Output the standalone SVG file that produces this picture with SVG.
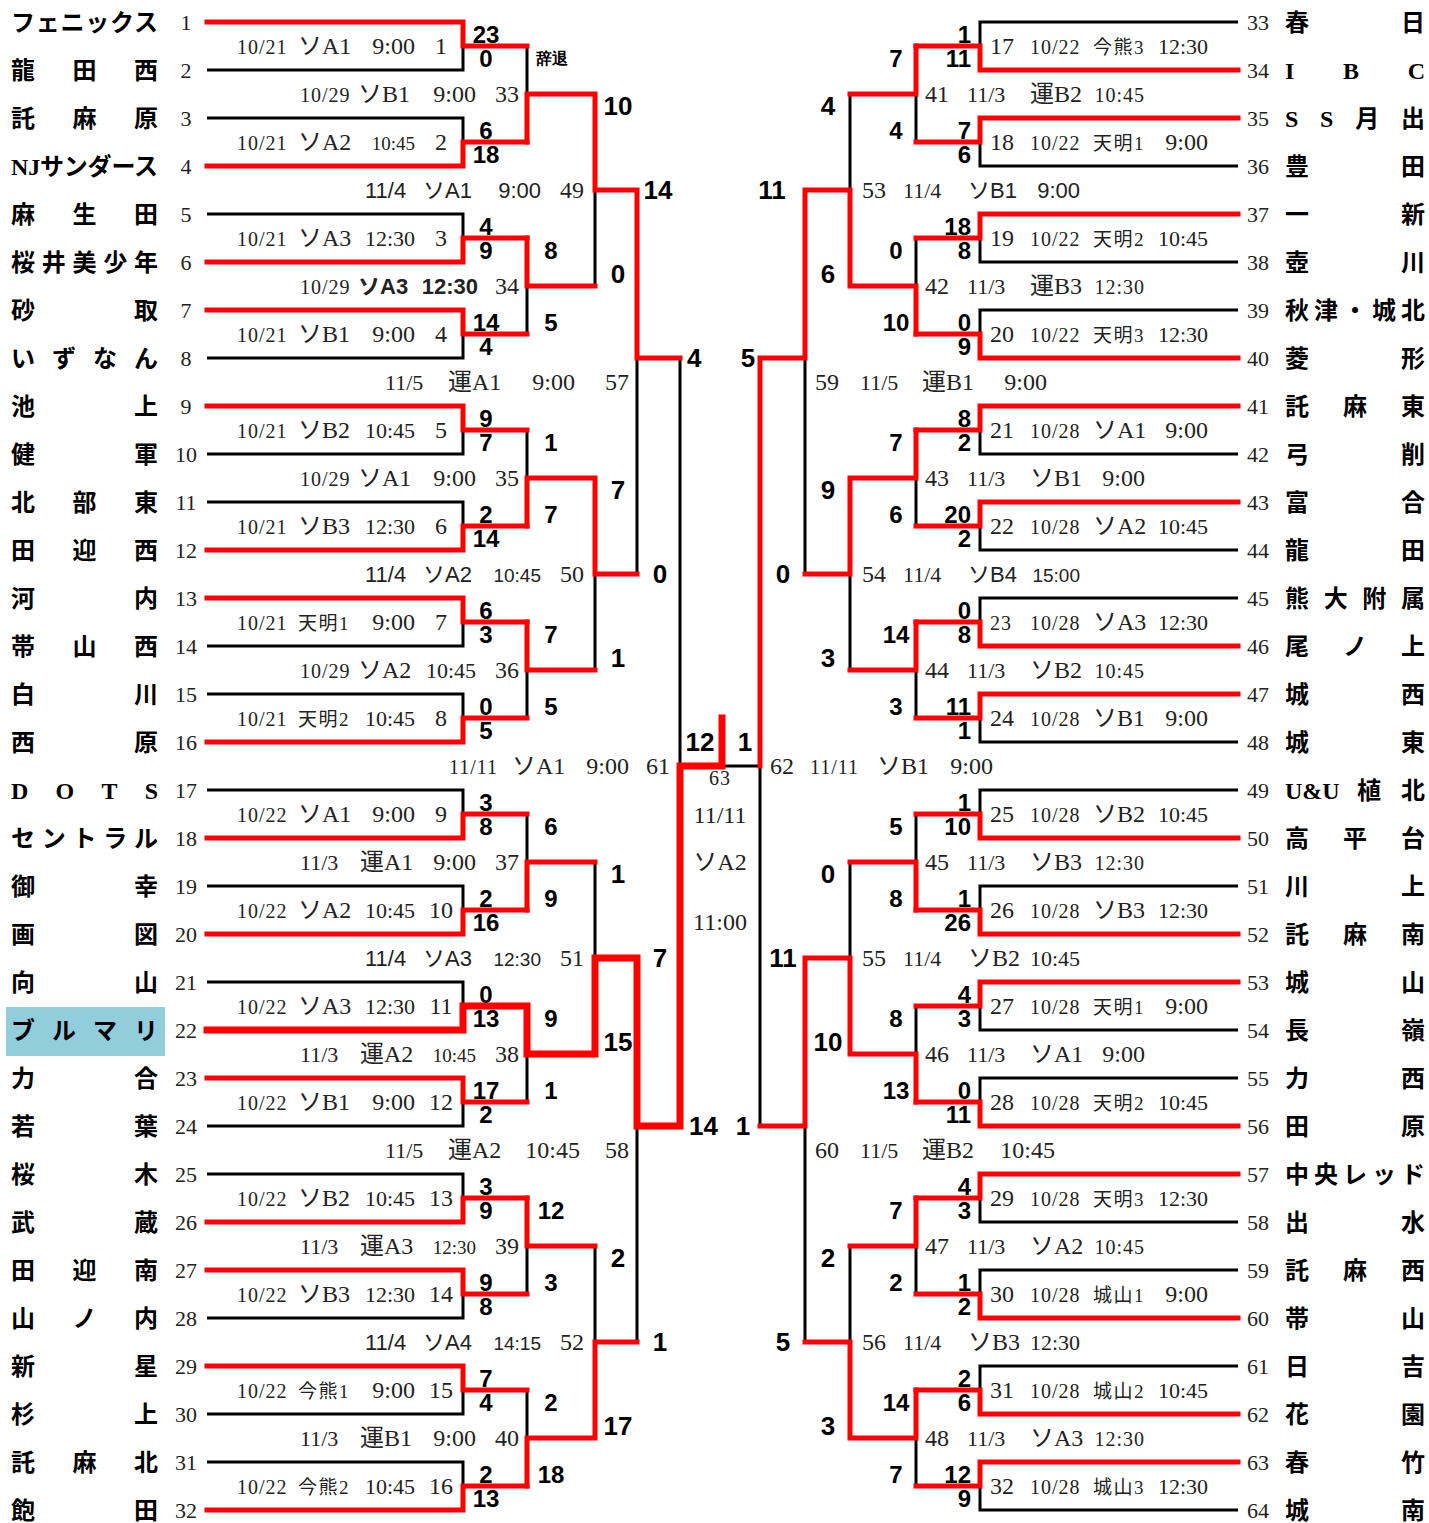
<svg xmlns="http://www.w3.org/2000/svg" width="1429" height="1523" viewBox="0 0 1429 1523">
<style>
.k{fill:none;stroke:#000;stroke-width:3}
.r{fill:none;stroke:#f00;stroke-width:5;stroke-linecap:square}
.c{fill:none;stroke:#f00;stroke-width:7;stroke-linecap:square}
.nm{font-family:"Liberation Serif","Noto Sans CJK JP",serif;font-size:24px;font-weight:bold;fill:#000}
.no{font-family:"Liberation Serif","Noto Sans CJK JP",serif;font-size:22px;fill:#222;text-anchor:middle}
.lb{font-family:"Liberation Serif","Noto Sans CJK JP",serif;font-size:24px;fill:#222}
.g{font-family:"Liberation Sans","Noto Sans CJK JP",sans-serif;font-size:22px}
.gb{font-family:"Liberation Sans","Noto Sans CJK JP",sans-serif;font-weight:bold;font-size:22px}
.d{font-size:22px}
.s{font-size:20px;letter-spacing:1px}
.t{font-size:19px}
.j{font-size:19px;letter-spacing:1.5px}
.e{text-anchor:end}
.m{text-anchor:middle}
.sc{font-family:"Liberation Sans Narrow","Liberation Sans",sans-serif;font-weight:bold;font-size:24px;fill:#000;text-anchor:middle}
.sc2{font-size:26px}
.st{text-anchor:start}
.en{text-anchor:end}
.small{font-size:16px}
</style>
<rect x="6" y="1007" width="159" height="49" fill="#92CDDC"/>
<g id="connectors">
<path class="k" d="M207,22H463V70H207M207,118H463V166H207M207,214H463V262H207M207,310H463V358H207M207,406H463V454H207M207,502H463V550H207M207,598H463V646H207M207,694H463V742H207M207,790H463V838H207M207,886H463V934H207M207,982H463V1030H207M207,1078H463V1126H207M207,1174H463V1222H207M207,1270H463V1318H207M207,1366H463V1414H207M207,1462H463V1510H207"/>
<path class="k" d="M463,46H527V142H463M463,238H527V334H463M463,430H527V526H463M463,622H527V718H463M463,814H527V910H463M463,1006H527V1102H463M463,1198H527V1294H463M463,1390H527V1486H463"/>
<path class="k" d="M527,94H595V286H527M527,478H595V670H527M527,862H595V1054H527M527,1246H595V1438H527M595,190H637V574H595M595,958H637V1342H595M637,358H680V1126H637M680,766H760"/>
<path class="k" d="M1238,22H980V70H1238M1238,118H980V166H1238M1238,214H980V262H1238M1238,310H980V358H1238M1238,406H980V454H1238M1238,502H980V550H1238M1238,598H980V646H1238M1238,694H980V742H1238M1238,790H980V838H1238M1238,886H980V934H1238M1238,982H980V1030H1238M1238,1078H980V1126H1238M1238,1174H980V1222H1238M1238,1270H980V1318H1238M1238,1366H980V1414H1238M1238,1462H980V1510H1238"/>
<path class="k" d="M980,46H916V142H980M980,238H916V334H980M980,430H916V526H980M980,622H916V718H980M980,814H916V910H980M980,1006H916V1102H980M980,1198H916V1294H980M980,1390H916V1486H980"/>
<path class="k" d="M916,94H850V286H916M916,478H850V670H916M916,862H850V1054H916M916,1246H850V1438H916M850,190H805V574H850M850,958H805V1342H850M805,358H760V1126H805"/>
<path class="r" d="M207,22H463V46H527M207,166H463V142H527M207,262H463V238H527M207,310H463V334H527M207,406H463V430H527M207,550H463V526H527M207,598H463V622H527M207,742H463V718H527M207,838H463V814H527M207,934H463V910H527M207,1078H463V1102H527M207,1222H463V1198H527M207,1270H463V1294H527M207,1366H463V1390H527M207,1510H463V1486H527"/>
<path class="r" d="M527,142V94H595M527,238V286H595M527,526V478H595M527,622V670H595M527,910V862H595M527,1198V1246H595M527,1486V1438H595M595,94V190H637M595,478V574H637M595,1438V1342H637M637,190V358H680"/>
<path class="c" d="M207,1030H463V1006H527V1054H595V958H637V1126H680V766H722V718"/>
<path class="r" d="M1238,70H980V46H916M1238,118H980V142H916M1238,214H980V238H916M1238,358H980V334H916M1238,406H980V430H916M1238,502H980V526H916M1238,646H980V622H916M1238,694H980V718H916M1238,838H980V814H916M1238,934H980V910H916M1238,982H980V1006H916M1238,1126H980V1102H916M1238,1174H980V1198H916M1238,1318H980V1294H916M1238,1414H980V1390H916M1238,1462H980V1486H916"/>
<path class="r" d="M916,46V94H850M916,334V286H850M916,430V478H850M916,622V670H850M916,910V862H850M916,1102V1054H850M916,1198V1246H850M916,1390V1438H850M850,286V190H805M850,478V574H805M850,1054V958H805M850,1438V1342H805M805,190V358H760M805,958V1126H760M760,358V766"/>
</g>
<g id="teams-left">
<g id="t1"><text class="nm" x="11" y="31" textLength="147" lengthAdjust="spacing">フェニックス</text><text class="no" x="186" y="30">1</text></g>
<g id="t2"><text class="nm" x="11" y="79" textLength="147" lengthAdjust="spacing">龍田西</text><text class="no" x="186" y="78">2</text></g>
<g id="t3"><text class="nm" x="11" y="127" textLength="147" lengthAdjust="spacing">託麻原</text><text class="no" x="186" y="126">3</text></g>
<g id="t4"><text class="nm" x="11" y="175" textLength="147" lengthAdjust="spacing">NJサンダース</text><text class="no" x="186" y="174">4</text></g>
<g id="t5"><text class="nm" x="11" y="223" textLength="147" lengthAdjust="spacing">麻生田</text><text class="no" x="186" y="222">5</text></g>
<g id="t6"><text class="nm" x="11" y="271" textLength="147" lengthAdjust="spacing">桜井美少年</text><text class="no" x="186" y="270">6</text></g>
<g id="t7"><text class="nm" x="11" y="319" textLength="147" lengthAdjust="spacing">砂取</text><text class="no" x="186" y="318">7</text></g>
<g id="t8"><text class="nm" x="11" y="367" textLength="147" lengthAdjust="spacing">いずなん</text><text class="no" x="186" y="366">8</text></g>
<g id="t9"><text class="nm" x="11" y="415" textLength="147" lengthAdjust="spacing">池上</text><text class="no" x="186" y="414">9</text></g>
<g id="t10"><text class="nm" x="11" y="463" textLength="147" lengthAdjust="spacing">健軍</text><text class="no" x="186" y="462">10</text></g>
<g id="t11"><text class="nm" x="11" y="511" textLength="147" lengthAdjust="spacing">北部東</text><text class="no" x="186" y="510">11</text></g>
<g id="t12"><text class="nm" x="11" y="559" textLength="147" lengthAdjust="spacing">田迎西</text><text class="no" x="186" y="558">12</text></g>
<g id="t13"><text class="nm" x="11" y="607" textLength="147" lengthAdjust="spacing">河内</text><text class="no" x="186" y="606">13</text></g>
<g id="t14"><text class="nm" x="11" y="655" textLength="147" lengthAdjust="spacing">帯山西</text><text class="no" x="186" y="654">14</text></g>
<g id="t15"><text class="nm" x="11" y="703" textLength="147" lengthAdjust="spacing">白川</text><text class="no" x="186" y="702">15</text></g>
<g id="t16"><text class="nm" x="11" y="751" textLength="147" lengthAdjust="spacing">西原</text><text class="no" x="186" y="750">16</text></g>
<g id="t17"><text class="nm" x="11" y="799" textLength="147" lengthAdjust="spacing">DOTS</text><text class="no" x="186" y="798">17</text></g>
<g id="t18"><text class="nm" x="11" y="847" textLength="147" lengthAdjust="spacing">セントラル</text><text class="no" x="186" y="846">18</text></g>
<g id="t19"><text class="nm" x="11" y="895" textLength="147" lengthAdjust="spacing">御幸</text><text class="no" x="186" y="894">19</text></g>
<g id="t20"><text class="nm" x="11" y="943" textLength="147" lengthAdjust="spacing">画図</text><text class="no" x="186" y="942">20</text></g>
<g id="t21"><text class="nm" x="11" y="991" textLength="147" lengthAdjust="spacing">向山</text><text class="no" x="186" y="990">21</text></g>
<g id="t22"><text class="nm" x="11" y="1039" textLength="147" lengthAdjust="spacing">ブルマリ</text><text class="no" x="186" y="1038">22</text></g>
<g id="t23"><text class="nm" x="11" y="1087" textLength="147" lengthAdjust="spacing">力合</text><text class="no" x="186" y="1086">23</text></g>
<g id="t24"><text class="nm" x="11" y="1135" textLength="147" lengthAdjust="spacing">若葉</text><text class="no" x="186" y="1134">24</text></g>
<g id="t25"><text class="nm" x="11" y="1183" textLength="147" lengthAdjust="spacing">桜木</text><text class="no" x="186" y="1182">25</text></g>
<g id="t26"><text class="nm" x="11" y="1231" textLength="147" lengthAdjust="spacing">武蔵</text><text class="no" x="186" y="1230">26</text></g>
<g id="t27"><text class="nm" x="11" y="1279" textLength="147" lengthAdjust="spacing">田迎南</text><text class="no" x="186" y="1278">27</text></g>
<g id="t28"><text class="nm" x="11" y="1327" textLength="147" lengthAdjust="spacing">山ノ内</text><text class="no" x="186" y="1326">28</text></g>
<g id="t29"><text class="nm" x="11" y="1375" textLength="147" lengthAdjust="spacing">新星</text><text class="no" x="186" y="1374">29</text></g>
<g id="t30"><text class="nm" x="11" y="1423" textLength="147" lengthAdjust="spacing">杉上</text><text class="no" x="186" y="1422">30</text></g>
<g id="t31"><text class="nm" x="11" y="1471" textLength="147" lengthAdjust="spacing">託麻北</text><text class="no" x="186" y="1470">31</text></g>
<g id="t32"><text class="nm" x="11" y="1519" textLength="147" lengthAdjust="spacing">飽田</text><text class="no" x="186" y="1518">32</text></g>
</g>
<g id="teams-right">
<g id="t33"><text class="no" x="1258" y="30">33</text><text class="nm" x="1285" y="31" textLength="140" lengthAdjust="spacing">春日</text></g>
<g id="t34"><text class="no" x="1258" y="78">34</text><text class="nm" x="1285" y="79" textLength="140" lengthAdjust="spacing">IBC</text></g>
<g id="t35"><text class="no" x="1258" y="126">35</text><text class="nm" x="1285" y="127" textLength="140" lengthAdjust="spacing">SS月出</text></g>
<g id="t36"><text class="no" x="1258" y="174">36</text><text class="nm" x="1285" y="175" textLength="140" lengthAdjust="spacing">豊田</text></g>
<g id="t37"><text class="no" x="1258" y="222">37</text><text class="nm" x="1285" y="223" textLength="140" lengthAdjust="spacing">一新</text></g>
<g id="t38"><text class="no" x="1258" y="270">38</text><text class="nm" x="1285" y="271" textLength="140" lengthAdjust="spacing">壺川</text></g>
<g id="t39"><text class="no" x="1258" y="318">39</text><text class="nm" x="1285" y="319" textLength="140" lengthAdjust="spacing">秋津・城北</text></g>
<g id="t40"><text class="no" x="1258" y="366">40</text><text class="nm" x="1285" y="367" textLength="140" lengthAdjust="spacing">菱形</text></g>
<g id="t41"><text class="no" x="1258" y="414">41</text><text class="nm" x="1285" y="415" textLength="140" lengthAdjust="spacing">託麻東</text></g>
<g id="t42"><text class="no" x="1258" y="462">42</text><text class="nm" x="1285" y="463" textLength="140" lengthAdjust="spacing">弓削</text></g>
<g id="t43"><text class="no" x="1258" y="510">43</text><text class="nm" x="1285" y="511" textLength="140" lengthAdjust="spacing">富合</text></g>
<g id="t44"><text class="no" x="1258" y="558">44</text><text class="nm" x="1285" y="559" textLength="140" lengthAdjust="spacing">龍田</text></g>
<g id="t45"><text class="no" x="1258" y="606">45</text><text class="nm" x="1285" y="607" textLength="140" lengthAdjust="spacing">熊大附属</text></g>
<g id="t46"><text class="no" x="1258" y="654">46</text><text class="nm" x="1285" y="655" textLength="140" lengthAdjust="spacing">尾ノ上</text></g>
<g id="t47"><text class="no" x="1258" y="702">47</text><text class="nm" x="1285" y="703" textLength="140" lengthAdjust="spacing">城西</text></g>
<g id="t48"><text class="no" x="1258" y="750">48</text><text class="nm" x="1285" y="751" textLength="140" lengthAdjust="spacing">城東</text></g>
<g id="t49"><text class="no" x="1258" y="798">49</text><text class="nm" x="1285" y="799">U&amp;U</text><text class="nm" x="1357" y="799">植</text><text class="nm" x="1401" y="799">北</text></g>
<g id="t50"><text class="no" x="1258" y="846">50</text><text class="nm" x="1285" y="847" textLength="140" lengthAdjust="spacing">高平台</text></g>
<g id="t51"><text class="no" x="1258" y="894">51</text><text class="nm" x="1285" y="895" textLength="140" lengthAdjust="spacing">川上</text></g>
<g id="t52"><text class="no" x="1258" y="942">52</text><text class="nm" x="1285" y="943" textLength="140" lengthAdjust="spacing">託麻南</text></g>
<g id="t53"><text class="no" x="1258" y="990">53</text><text class="nm" x="1285" y="991" textLength="140" lengthAdjust="spacing">城山</text></g>
<g id="t54"><text class="no" x="1258" y="1038">54</text><text class="nm" x="1285" y="1039" textLength="140" lengthAdjust="spacing">長嶺</text></g>
<g id="t55"><text class="no" x="1258" y="1086">55</text><text class="nm" x="1285" y="1087" textLength="140" lengthAdjust="spacing">力西</text></g>
<g id="t56"><text class="no" x="1258" y="1134">56</text><text class="nm" x="1285" y="1135" textLength="140" lengthAdjust="spacing">田原</text></g>
<g id="t57"><text class="no" x="1258" y="1182">57</text><text class="nm" x="1285" y="1183" textLength="140" lengthAdjust="spacing">中央レッド</text></g>
<g id="t58"><text class="no" x="1258" y="1230">58</text><text class="nm" x="1285" y="1231" textLength="140" lengthAdjust="spacing">出水</text></g>
<g id="t59"><text class="no" x="1258" y="1278">59</text><text class="nm" x="1285" y="1279" textLength="140" lengthAdjust="spacing">託麻西</text></g>
<g id="t60"><text class="no" x="1258" y="1326">60</text><text class="nm" x="1285" y="1327" textLength="140" lengthAdjust="spacing">帯山</text></g>
<g id="t61"><text class="no" x="1258" y="1374">61</text><text class="nm" x="1285" y="1375" textLength="140" lengthAdjust="spacing">日吉</text></g>
<g id="t62"><text class="no" x="1258" y="1422">62</text><text class="nm" x="1285" y="1423" textLength="140" lengthAdjust="spacing">花園</text></g>
<g id="t63"><text class="no" x="1258" y="1470">63</text><text class="nm" x="1285" y="1471" textLength="140" lengthAdjust="spacing">春竹</text></g>
<g id="t64"><text class="no" x="1258" y="1518">64</text><text class="nm" x="1285" y="1519" textLength="140" lengthAdjust="spacing">城南</text></g>
</g>
<g id="match-labels">
<text class="lb" y="54"><tspan x="237" class="s">10/21</tspan><tspan x="298">ソA1</tspan><tspan x="415" class="e">9:00</tspan><tspan x="441" class="m">1</tspan></text>
<text class="lb" y="150"><tspan x="237" class="s">10/21</tspan><tspan x="298">ソA2</tspan><tspan x="415" class="e t">10:45</tspan><tspan x="441" class="m">2</tspan></text>
<text class="lb" y="246"><tspan x="237" class="s">10/21</tspan><tspan x="298">ソA3</tspan><tspan x="415" class="e d">12:30</tspan><tspan x="441" class="m">3</tspan></text>
<text class="lb" y="342"><tspan x="237" class="s">10/21</tspan><tspan x="298">ソB1</tspan><tspan x="415" class="e">9:00</tspan><tspan x="441" class="m">4</tspan></text>
<text class="lb" y="438"><tspan x="237" class="s">10/21</tspan><tspan x="298">ソB2</tspan><tspan x="415" class="e d">10:45</tspan><tspan x="441" class="m">5</tspan></text>
<text class="lb" y="534"><tspan x="237" class="s">10/21</tspan><tspan x="298">ソB3</tspan><tspan x="415" class="e d">12:30</tspan><tspan x="441" class="m">6</tspan></text>
<text class="lb" y="630"><tspan x="237" class="s">10/21</tspan><tspan x="298" class="j">天明1</tspan><tspan x="415" class="e">9:00</tspan><tspan x="441" class="m">7</tspan></text>
<text class="lb" y="726"><tspan x="237" class="s">10/21</tspan><tspan x="298" class="j">天明2</tspan><tspan x="415" class="e d">10:45</tspan><tspan x="441" class="m">8</tspan></text>
<text class="lb" y="822"><tspan x="237" class="s">10/22</tspan><tspan x="298">ソA1</tspan><tspan x="415" class="e">9:00</tspan><tspan x="441" class="m">9</tspan></text>
<text class="lb" y="918"><tspan x="237" class="s">10/22</tspan><tspan x="298">ソA2</tspan><tspan x="415" class="e d">10:45</tspan><tspan x="441" class="m">10</tspan></text>
<text class="lb" y="1014"><tspan x="237" class="s">10/22</tspan><tspan x="298">ソA3</tspan><tspan x="415" class="e d">12:30</tspan><tspan x="441" class="m">11</tspan></text>
<text class="lb" y="1110"><tspan x="237" class="s">10/22</tspan><tspan x="298">ソB1</tspan><tspan x="415" class="e">9:00</tspan><tspan x="441" class="m">12</tspan></text>
<text class="lb" y="1206"><tspan x="237" class="s">10/22</tspan><tspan x="298">ソB2</tspan><tspan x="415" class="e d">10:45</tspan><tspan x="441" class="m">13</tspan></text>
<text class="lb" y="1302"><tspan x="237" class="s">10/22</tspan><tspan x="298">ソB3</tspan><tspan x="415" class="e d">12:30</tspan><tspan x="441" class="m">14</tspan></text>
<text class="lb" y="1398"><tspan x="237" class="s">10/22</tspan><tspan x="298" class="j">今熊1</tspan><tspan x="415" class="e">9:00</tspan><tspan x="441" class="m">15</tspan></text>
<text class="lb" y="1494"><tspan x="237" class="s">10/22</tspan><tspan x="298" class="j">今熊2</tspan><tspan x="415" class="e d">10:45</tspan><tspan x="441" class="m">16</tspan></text>
<text class="lb" y="102"><tspan x="300" class="s">10/29</tspan><tspan x="358">ソB1</tspan><tspan x="476" class="e">9:00</tspan><tspan x="507" class="m">33</tspan></text>
<text class="lb" y="294"><tspan x="300" class="s">10/29</tspan><tspan x="358" class="gb">ソA3</tspan><tspan x="478" class="e gb">12:30</tspan><tspan x="507" class="m">34</tspan></text>
<text class="lb" y="486"><tspan x="300" class="s">10/29</tspan><tspan x="358">ソA1</tspan><tspan x="476" class="e">9:00</tspan><tspan x="507" class="m">35</tspan></text>
<text class="lb" y="678"><tspan x="300" class="s">10/29</tspan><tspan x="358">ソA2</tspan><tspan x="476" class="e d">10:45</tspan><tspan x="507" class="m">36</tspan></text>
<text class="lb" y="870"><tspan x="300" class="d">11/3</tspan><tspan x="360">運A1</tspan><tspan x="476" class="e">9:00</tspan><tspan x="507" class="m">37</tspan></text>
<text class="lb" y="1062"><tspan x="300" class="d">11/3</tspan><tspan x="360">運A2</tspan><tspan x="476" class="e t">10:45</tspan><tspan x="507" class="m">38</tspan></text>
<text class="lb" y="1254"><tspan x="300" class="d">11/3</tspan><tspan x="360">運A3</tspan><tspan x="476" class="e t">12:30</tspan><tspan x="507" class="m">39</tspan></text>
<text class="lb" y="1446"><tspan x="300" class="d">11/3</tspan><tspan x="360">運B1</tspan><tspan x="476" class="e">9:00</tspan><tspan x="507" class="m">40</tspan></text>
<text class="lb" y="198"><tspan x="365" class="g">11/4</tspan><tspan x="423" class="g">ソA1</tspan><tspan x="541" class="e g">9:00</tspan><tspan x="572" class="m">49</tspan></text>
<text class="lb" y="582"><tspan x="365" class="g">11/4</tspan><tspan x="423" class="g">ソA2</tspan><tspan x="541" class="e g t">10:45</tspan><tspan x="572" class="m">50</tspan></text>
<text class="lb" y="966"><tspan x="365" class="g">11/4</tspan><tspan x="423" class="g">ソA3</tspan><tspan x="541" class="e g t">12:30</tspan><tspan x="572" class="m">51</tspan></text>
<text class="lb" y="1350"><tspan x="365" class="g">11/4</tspan><tspan x="423" class="g">ソA4</tspan><tspan x="541" class="e g t">14:15</tspan><tspan x="572" class="m">52</tspan></text>
<text class="lb" y="390"><tspan x="385" class="d">11/5</tspan><tspan x="448">運A1</tspan><tspan x="575" class="e">9:00</tspan><tspan x="617" class="m">57</tspan></text>
<text class="lb" y="1158"><tspan x="385" class="d">11/5</tspan><tspan x="448">運A2</tspan><tspan x="580" class="e">10:45</tspan><tspan x="617" class="m">58</tspan></text>
<text class="lb" y="774"><tspan x="449" class="s">11/11</tspan><tspan x="512">ソA1</tspan><tspan x="629" class="e">9:00</tspan><tspan x="658" class="m">61</tspan></text>
<text class="lb" y="54"><tspan x="990">17</tspan><tspan x="1030" class="s">10/22</tspan><tspan x="1093" class="j">今熊3</tspan><tspan x="1208" class="e d">12:30</tspan></text>
<text class="lb" y="150"><tspan x="990">18</tspan><tspan x="1030" class="s">10/22</tspan><tspan x="1093" class="j">天明1</tspan><tspan x="1208" class="e">9:00</tspan></text>
<text class="lb" y="246"><tspan x="990">19</tspan><tspan x="1030" class="s">10/22</tspan><tspan x="1093" class="j">天明2</tspan><tspan x="1208" class="e d">10:45</tspan></text>
<text class="lb" y="342"><tspan x="990">20</tspan><tspan x="1030" class="s">10/22</tspan><tspan x="1093" class="j">天明3</tspan><tspan x="1208" class="e d">12:30</tspan></text>
<text class="lb" y="438"><tspan x="990">21</tspan><tspan x="1030" class="s">10/28</tspan><tspan x="1093">ソA1</tspan><tspan x="1208" class="e">9:00</tspan></text>
<text class="lb" y="534"><tspan x="990">22</tspan><tspan x="1030" class="s">10/28</tspan><tspan x="1093">ソA2</tspan><tspan x="1208" class="e d">10:45</tspan></text>
<text class="lb" y="630"><tspan x="990" class="s">23</tspan><tspan x="1030" class="s">10/28</tspan><tspan x="1093">ソA3</tspan><tspan x="1208" class="e d">12:30</tspan></text>
<text class="lb" y="726"><tspan x="990">24</tspan><tspan x="1030" class="s">10/28</tspan><tspan x="1093">ソB1</tspan><tspan x="1208" class="e">9:00</tspan></text>
<text class="lb" y="822"><tspan x="990">25</tspan><tspan x="1030" class="s">10/28</tspan><tspan x="1093">ソB2</tspan><tspan x="1208" class="e d">10:45</tspan></text>
<text class="lb" y="918"><tspan x="990">26</tspan><tspan x="1030" class="s">10/28</tspan><tspan x="1093">ソB3</tspan><tspan x="1208" class="e d">12:30</tspan></text>
<text class="lb" y="1014"><tspan x="990">27</tspan><tspan x="1030" class="s">10/28</tspan><tspan x="1093" class="j">天明1</tspan><tspan x="1208" class="e">9:00</tspan></text>
<text class="lb" y="1110"><tspan x="990">28</tspan><tspan x="1030" class="s">10/28</tspan><tspan x="1093" class="j">天明2</tspan><tspan x="1208" class="e d">10:45</tspan></text>
<text class="lb" y="1206"><tspan x="990">29</tspan><tspan x="1030" class="s">10/28</tspan><tspan x="1093" class="j">天明3</tspan><tspan x="1208" class="e d">12:30</tspan></text>
<text class="lb" y="1302"><tspan x="990">30</tspan><tspan x="1030" class="s">10/28</tspan><tspan x="1093" class="j">城山1</tspan><tspan x="1208" class="e">9:00</tspan></text>
<text class="lb" y="1398"><tspan x="990">31</tspan><tspan x="1030" class="s">10/28</tspan><tspan x="1093" class="j">城山2</tspan><tspan x="1208" class="e d">10:45</tspan></text>
<text class="lb" y="1494"><tspan x="990">32</tspan><tspan x="1030" class="s">10/28</tspan><tspan x="1093" class="j">城山3</tspan><tspan x="1208" class="e d">12:30</tspan></text>
<text class="lb" y="102"><tspan x="925">41</tspan><tspan x="967" class="d">11/3</tspan><tspan x="1030">運B2</tspan><tspan x="1145" class="e s">10:45</tspan></text>
<text class="lb" y="294"><tspan x="925">42</tspan><tspan x="967" class="d">11/3</tspan><tspan x="1030">運B3</tspan><tspan x="1145" class="e s">12:30</tspan></text>
<text class="lb" y="486"><tspan x="925">43</tspan><tspan x="967" class="d">11/3</tspan><tspan x="1030">ソB1</tspan><tspan x="1145" class="e">9:00</tspan></text>
<text class="lb" y="678"><tspan x="925">44</tspan><tspan x="967" class="d">11/3</tspan><tspan x="1030">ソB2</tspan><tspan x="1145" class="e s">10:45</tspan></text>
<text class="lb" y="870"><tspan x="925">45</tspan><tspan x="967" class="d">11/3</tspan><tspan x="1030">ソB3</tspan><tspan x="1145" class="e s">12:30</tspan></text>
<text class="lb" y="1062"><tspan x="925">46</tspan><tspan x="967" class="d">11/3</tspan><tspan x="1030">ソA1</tspan><tspan x="1145" class="e">9:00</tspan></text>
<text class="lb" y="1254"><tspan x="925">47</tspan><tspan x="967" class="d">11/3</tspan><tspan x="1030">ソA2</tspan><tspan x="1145" class="e s">10:45</tspan></text>
<text class="lb" y="1446"><tspan x="925">48</tspan><tspan x="967" class="d">11/3</tspan><tspan x="1030">ソA3</tspan><tspan x="1145" class="e s">12:30</tspan></text>
<text class="lb" y="198"><tspan x="862">53</tspan><tspan x="903" class="d">11/4</tspan><tspan x="968" class="g">ソB1</tspan><tspan x="1080" class="e g">9:00</tspan></text>
<text class="lb" y="582"><tspan x="862">54</tspan><tspan x="903" class="d">11/4</tspan><tspan x="968" class="g">ソB4</tspan><tspan x="1080" class="e g t">15:00</tspan></text>
<text class="lb" y="966"><tspan x="862">55</tspan><tspan x="903" class="d">11/4</tspan><tspan x="968">ソB2</tspan><tspan x="1080" class="e d">10:45</tspan></text>
<text class="lb" y="1350"><tspan x="862">56</tspan><tspan x="903" class="d">11/4</tspan><tspan x="968">ソB3</tspan><tspan x="1080" class="e d">12:30</tspan></text>
<text class="lb" y="390"><tspan x="815">59</tspan><tspan x="860" class="d">11/5</tspan><tspan x="922">運B1</tspan><tspan x="1047" class="e">9:00</tspan></text>
<text class="lb" y="1158"><tspan x="815">60</tspan><tspan x="860" class="d">11/5</tspan><tspan x="922">運B2</tspan><tspan x="1055" class="e">10:45</tspan></text>
<text class="lb" y="774"><tspan x="770">62</tspan><tspan x="810" class="s">11/11</tspan><tspan x="877">ソB1</tspan><tspan x="993" class="e">9:00</tspan></text>
<text class="lb m s" x="720" y="785">63</text>
<text class="lb m" x="720" y="823">11/11</text>
<text class="lb m" x="720" y="870">ソA2</text>
<text class="lb m" x="720" y="930">11:00</text>
</g>
<g id="scores-left">
<text class="sc" x="486" y="43">23</text><text class="sc" x="486" y="67">0</text>
<text class="sc" x="486" y="139">6</text><text class="sc" x="486" y="163">18</text>
<text class="sc" x="486" y="235">4</text><text class="sc" x="486" y="259">9</text>
<text class="sc" x="486" y="331">14</text><text class="sc" x="486" y="355">4</text>
<text class="sc" x="486" y="427">9</text><text class="sc" x="486" y="451">7</text>
<text class="sc" x="486" y="523">2</text><text class="sc" x="486" y="547">14</text>
<text class="sc" x="486" y="619">6</text><text class="sc" x="486" y="643">3</text>
<text class="sc" x="486" y="715">0</text><text class="sc" x="486" y="739">5</text>
<text class="sc" x="486" y="811">3</text><text class="sc" x="486" y="835">8</text>
<text class="sc" x="486" y="907">2</text><text class="sc" x="486" y="931">16</text>
<text class="sc" x="486" y="1003">0</text><text class="sc" x="486" y="1027">13</text>
<text class="sc" x="486" y="1099">17</text><text class="sc" x="486" y="1123">2</text>
<text class="sc" x="486" y="1195">3</text><text class="sc" x="486" y="1219">9</text>
<text class="sc" x="486" y="1291">9</text><text class="sc" x="486" y="1315">8</text>
<text class="sc" x="486" y="1387">7</text><text class="sc" x="486" y="1411">4</text>
<text class="sc" x="486" y="1483">2</text><text class="sc" x="486" y="1507">13</text>
<text class="sc small" x="552" y="64">辞退</text>
<text class="sc" x="551" y="259">8</text><text class="sc" x="551" y="331">5</text>
<text class="sc" x="551" y="451">1</text><text class="sc" x="551" y="523">7</text>
<text class="sc" x="551" y="643">7</text><text class="sc" x="551" y="715">5</text>
<text class="sc" x="551" y="835">6</text><text class="sc" x="551" y="907">9</text>
<text class="sc" x="551" y="1027">9</text><text class="sc" x="551" y="1099">1</text>
<text class="sc" x="551" y="1219">12</text><text class="sc" x="551" y="1291">3</text>
<text class="sc" x="551" y="1411">2</text><text class="sc" x="551" y="1483">18</text>
<text class="sc sc2" x="618" y="115">10</text><text class="sc sc2" x="618" y="283">0</text>
<text class="sc sc2" x="618" y="499">7</text><text class="sc sc2" x="618" y="667">1</text>
<text class="sc sc2" x="618" y="883">1</text><text class="sc sc2" x="618" y="1051">15</text>
<text class="sc sc2" x="618" y="1267">2</text><text class="sc sc2" x="618" y="1435">17</text>
<text class="sc sc2" x="658" y="199">14</text><text class="sc sc2" x="660" y="583">0</text>
<text class="sc sc2" x="660" y="967">7</text><text class="sc sc2" x="660" y="1351">1</text>
<text class="sc sc2 st" x="687" y="367">4</text><text class="sc sc2 st" x="689" y="1135">14</text>
<text class="sc sc2" x="700" y="751">12</text><text class="sc sc2" x="745" y="751">1</text>
</g>
<g id="scores-right">
<text class="sc en" x="971" y="43">1</text><text class="sc en" x="971" y="67">11</text>
<text class="sc en" x="971" y="139">7</text><text class="sc en" x="971" y="163">6</text>
<text class="sc en" x="971" y="235">18</text><text class="sc en" x="971" y="259">8</text>
<text class="sc en" x="971" y="331">0</text><text class="sc en" x="971" y="355">9</text>
<text class="sc en" x="971" y="427">8</text><text class="sc en" x="971" y="451">2</text>
<text class="sc en" x="971" y="523">20</text><text class="sc en" x="971" y="547">2</text>
<text class="sc en" x="971" y="619">0</text><text class="sc en" x="971" y="643">8</text>
<text class="sc en" x="971" y="715">11</text><text class="sc en" x="971" y="739">1</text>
<text class="sc en" x="971" y="811">1</text><text class="sc en" x="971" y="835">10</text>
<text class="sc en" x="971" y="907">1</text><text class="sc en" x="971" y="931">26</text>
<text class="sc en" x="971" y="1003">4</text><text class="sc en" x="971" y="1027">3</text>
<text class="sc en" x="971" y="1099">0</text><text class="sc en" x="971" y="1123">11</text>
<text class="sc en" x="971" y="1195">4</text><text class="sc en" x="971" y="1219">3</text>
<text class="sc en" x="971" y="1291">1</text><text class="sc en" x="971" y="1315">2</text>
<text class="sc en" x="971" y="1387">2</text><text class="sc en" x="971" y="1411">6</text>
<text class="sc en" x="971" y="1483">12</text><text class="sc en" x="971" y="1507">9</text>
<text class="sc" x="896" y="67">7</text><text class="sc" x="896" y="139">4</text>
<text class="sc" x="896" y="259">0</text><text class="sc" x="896" y="331">10</text>
<text class="sc" x="896" y="451">7</text><text class="sc" x="896" y="523">6</text>
<text class="sc" x="896" y="643">14</text><text class="sc" x="896" y="715">3</text>
<text class="sc" x="896" y="835">5</text><text class="sc" x="896" y="907">8</text>
<text class="sc" x="896" y="1027">8</text><text class="sc" x="896" y="1099">13</text>
<text class="sc" x="896" y="1219">7</text><text class="sc" x="896" y="1291">2</text>
<text class="sc" x="896" y="1411">14</text><text class="sc" x="896" y="1483">7</text>
<text class="sc sc2" x="828" y="115">4</text><text class="sc sc2" x="828" y="283">6</text>
<text class="sc sc2" x="828" y="499">9</text><text class="sc sc2" x="828" y="667">3</text>
<text class="sc sc2" x="828" y="883">0</text><text class="sc sc2" x="828" y="1051">10</text>
<text class="sc sc2" x="828" y="1267">2</text><text class="sc sc2" x="828" y="1435">3</text>
<text class="sc sc2" x="772" y="199">11</text><text class="sc sc2" x="783" y="583">0</text>
<text class="sc sc2" x="783" y="967">11</text><text class="sc sc2" x="783" y="1351">5</text>
<text class="sc sc2" x="748" y="367">5</text><text class="sc sc2" x="743" y="1135">1</text>
</g>
</svg>
